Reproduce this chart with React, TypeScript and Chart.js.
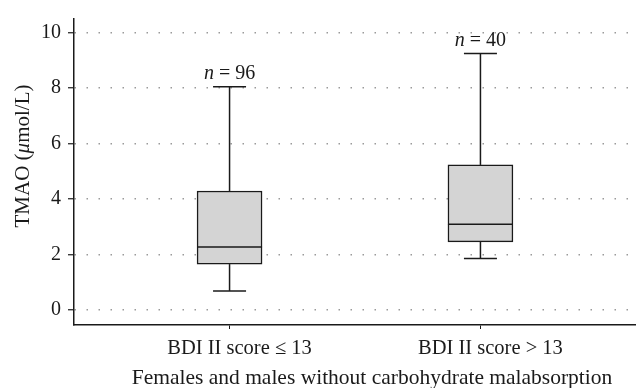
import React, { useEffect, useRef } from 'react';
import { Chart, registerables } from 'chart.js';
Chart.register(...registerables);

const categories = ['BDI II score ≤ 13', 'BDI II score > 13'];
const sampleSizes = [96, 40];
const whiskerMin = [0.68, 1.85];
const q1 = [1.65, 2.45];
const median = [2.27, 3.09];
const q3 = [4.29, 5.23];
const whiskerMax = [8.05, 9.25];
const yTicks = [0, 2, 4, 6, 8, 10];
const yTitleParts = ['TMAO (', 'μ', 'mol/L)'];
const xTitle = 'Females and males without carbohydrate malabsorption';

const FONT = '"Liberation Serif", "DejaVu Serif", serif';
const INK = '#1a1a1a';

const boxPlugin = {
  id: 'boxExtras',
  afterDatasetsDraw(chart: any) {
    const { ctx, scales } = chart;
    const x = scales.x;
    const y = scales.y;
    ctx.save();
    ctx.strokeStyle = INK;
    ctx.lineWidth = 1.5;
    const seg = (x1: number, y1: number, x2: number, y2: number) => {
      ctx.beginPath();
      ctx.moveTo(x1, y1);
      ctx.lineTo(x2, y2);
      ctx.stroke();
    };
    categories.forEach((_, i) => {
      const cx = x.getPixelForValue(i);
      const half = 32.5;
      const capHalf = 16.5;
      const yMax = y.getPixelForValue(whiskerMax[i]);
      const yMin = y.getPixelForValue(whiskerMin[i]);
      seg(cx, y.getPixelForValue(q3[i]), cx, yMax);
      seg(cx - capHalf, yMax, cx + capHalf, yMax);
      seg(cx, y.getPixelForValue(q1[i]), cx, yMin);
      seg(cx - capHalf, yMin, cx + capHalf, yMin);
      const ym = y.getPixelForValue(median[i]);
      seg(cx - half, ym, cx + half, ym);
      const italic = 'italic 20px ' + FONT;
      const normal = '20px ' + FONT;
      ctx.font = italic;
      const w1 = ctx.measureText('n').width;
      ctx.font = normal;
      const rest = ' = ' + sampleSizes[i];
      const w2 = ctx.measureText(rest).width;
      const start = cx - (w1 + w2) / 2;
      const ty = yMax - 13;
      ctx.fillStyle = INK;
      ctx.textBaseline = 'middle';
      ctx.textAlign = 'left';
      ctx.font = italic;
      ctx.fillText('n', start, ty);
      ctx.font = normal;
      ctx.fillText(rest, start + w1, ty);
    });
    ctx.restore();
  },
  afterDraw(chart: any) {
    const { ctx } = chart;
    ctx.save();
    ctx.fillStyle = INK;
    ctx.textBaseline = 'middle';
    ctx.textAlign = 'left';
    const fonts = ['21px ' + FONT, 'italic 21px ' + FONT, '21px ' + FONT];
    const widths = yTitleParts.map((p, k) => {
      ctx.font = fonts[k];
      return ctx.measureText(p).width;
    });
    const total = widths.reduce((a, b) => a + b, 0);
    ctx.translate(23, 156);
    ctx.rotate(-Math.PI / 2);
    let pos = -total / 2;
    yTitleParts.forEach((p, k) => {
      ctx.font = fonts[k];
      ctx.fillText(p, pos, 0);
      pos += widths[k];
    });
    ctx.restore();
    ctx.save();
    ctx.fillStyle = INK;
    ctx.textBaseline = 'middle';
    ctx.textAlign = 'center';
    ctx.font = '21.5px ' + FONT;
    ctx.fillText(xTitle, 372, 378);
    ctx.restore();
  },
};

export default function App() {
  const ref = useRef<HTMLCanvasElement | null>(null);
  useEffect(() => {
    document.body.style.margin = '0';
    const canvas = ref.current;
    if (!canvas) return;
    const chart = new Chart(canvas, {
      type: 'bar',
      data: {
        datasets: [
          {
            data: categories.map((_, i) => ({ x: i, y: [q1[i], q3[i]] })) as any,
            backgroundColor: '#d4d4d4',
            borderColor: INK,
            borderWidth: 1.5,
            borderSkipped: false,
            barThickness: 65,
          },
        ],
      },
      options: {
        animation: false,
        responsive: true,
        maintainAspectRatio: false,
        layout: { padding: { top: 15, right: 0, left: 0, bottom: 0 } },
        plugins: { legend: { display: false }, tooltip: { enabled: false } },
        scales: {
          x: {
            type: 'linear',
            offset: false,
            min: -0.62,
            max: 1.62,
            afterBuildTicks: (s: any) => {
              s.ticks = categories.map((_, i) => ({ value: i }));
            },
            afterFit: (s: any) => {
              s.height = 63;
            },
            ticks: {
              callback: (v: any) => categories[v as number] ?? '',
              font: { family: FONT, size: 20.5 },
              color: INK,
              padding: 7,
              labelOffset: 10,
              maxRotation: 0,
              autoSkip: false,
            },
            grid: {
              display: true,
              offset: false,
              drawOnChartArea: false,
              drawTicks: true,
              tickLength: 4,
              tickColor: INK,
              tickWidth: 1,
            },
            border: { display: true, color: INK, width: 1.5 },
          },
          y: {
            type: 'linear',
            min: -0.55,
            max: 10.5,
            afterBuildTicks: (s: any) => {
              s.ticks = yTicks.map((v) => ({ value: v }));
            },
            afterFit: (s: any) => {
              s.width = 74;
            },
            ticks: {
              font: { family: FONT, size: 20 },
              color: INK,
              padding: 7,
            },
            grid: {
              display: true,
              drawOnChartArea: true,
              color: '#9a9a9a',
              lineWidth: 1.5,
              drawTicks: true,
              tickLength: 6,
              tickColor: INK,
              tickWidth: 1.2,
              tickBorderDash: [],
            } as any,
            border: { display: true, color: INK, width: 1.5, dash: [1.5, 10.5] },
          },
        },
      } as any,
      plugins: [boxPlugin],
    });
    return () => chart.destroy();
  }, []);
  return (
    <div style={{ width: 636, height: 388, position: 'relative' }}>
      <canvas ref={ref} />
    </div>
  );
}
